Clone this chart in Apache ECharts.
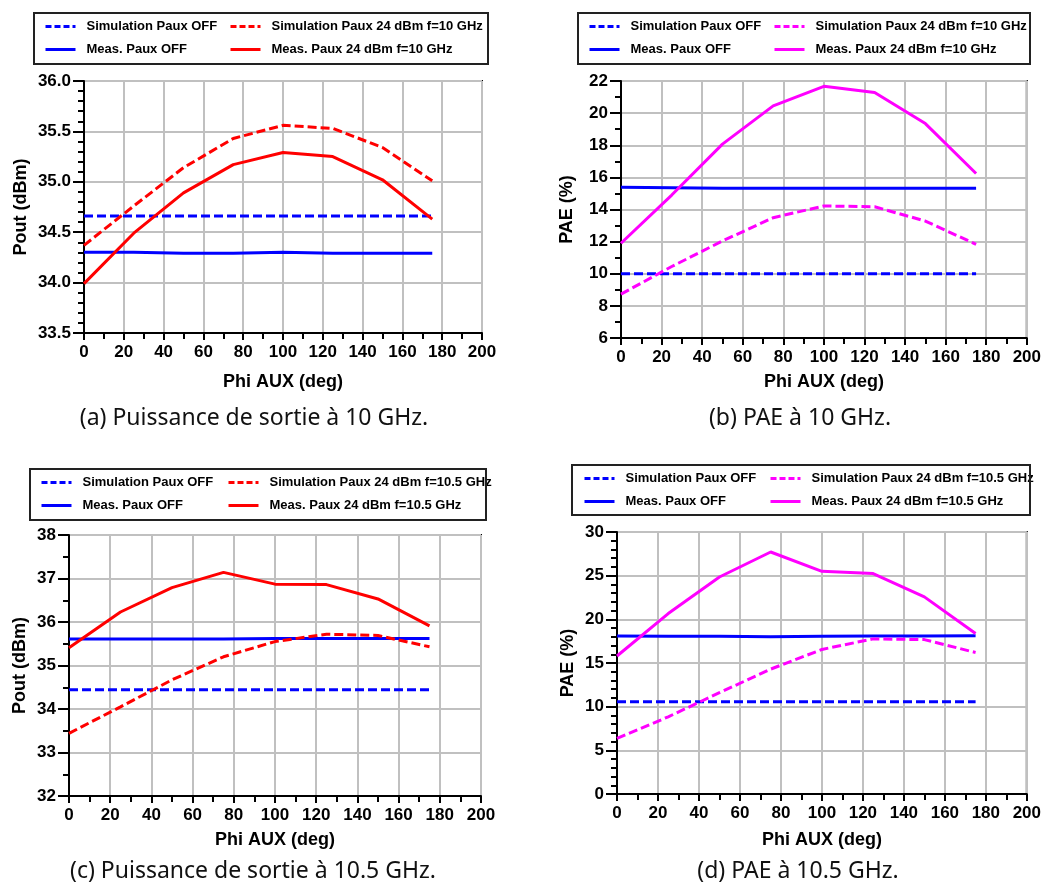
<!DOCTYPE html>
<html>
<head>
<meta charset="utf-8">
<script src="https://cdn.jsdelivr.net/npm/echarts@6/dist/echarts.min.js"></script>
<style>
html,body{margin:0;padding:0;background:#fff;}
#chart{width:1044px;height:885px;}
</style>
</head>
<body>
<div id="chart"></div>
<script>
// ---- data ----
const phi = [0, 25, 50, 75, 100, 125, 150, 175];

const a_simOff  = [34.66, 34.66, 34.66, 34.66, 34.66, 34.66, 34.66, 34.66];
const a_measOff = [34.30, 34.30, 34.29, 34.29, 34.30, 34.29, 34.29, 34.29];
const a_sim24   = [34.37, 34.76, 35.14, 35.43, 35.56, 35.53, 35.34, 35.01];
const a_meas24  = [33.99, 34.49, 34.89, 35.17, 35.29, 35.25, 35.02, 34.63];

const b_simOff  = [10.0, 10.0, 10.0, 10.0, 10.0, 10.0, 10.0, 10.0];
const b_measOff = [15.38, 15.35, 15.32, 15.32, 15.33, 15.33, 15.33, 15.33];
const b_sim24   = [8.73, 10.45, 12.04, 13.49, 14.22, 14.17, 13.28, 11.83];
const b_meas24  = [11.9, 14.9, 18.07, 20.45, 21.67, 21.28, 19.35, 16.24];

const c_simOff  = [34.44, 34.44, 34.44, 34.44, 34.44, 34.44, 34.44, 34.44];
const c_measOff = [35.61, 35.61, 35.61, 35.61, 35.62, 35.62, 35.62, 35.62];
const c_sim24   = [33.44, 34.05, 34.67, 35.20, 35.55, 35.72, 35.69, 35.43];
const c_meas24  = [35.41, 36.23, 36.79, 37.14, 36.87, 36.86, 36.53, 35.91];

const d_simOff  = [10.56, 10.56, 10.56, 10.56, 10.56, 10.56, 10.56, 10.56];
const d_measOff = [18.10, 18.06, 18.05, 18.02, 18.05, 18.08, 18.10, 18.12];
const d_sim24   = [6.36, 8.84, 11.6, 14.3, 16.55, 17.76, 17.68, 16.2];
const d_meas24  = [15.8, 20.66, 24.85, 27.71, 25.5, 25.24, 22.57, 18.38];

const legend10  = ['Simulation Paux OFF', 'Meas. Paux OFF', 'Simulation Paux 24 dBm f=10 GHz', 'Meas. Paux 24 dBm f=10 GHz'];
const legend105 = ['Simulation Paux OFF', 'Meas. Paux OFF', 'Simulation Paux 24 dBm f=10.5 GHz', 'Meas. Paux 24 dBm f=10.5 GHz'];
const captions = ['(a) Puissance de sortie à 10 GHz.', '(b) PAE à 10 GHz.', '(c) Puissance de sortie à 10.5 GHz.', '(d) PAE à 10.5 GHz.'];
const yNames = ['Pout (dBm)', 'PAE (%)', 'Pout (dBm)', 'PAE (%)'];
const xName = 'Phi AUX (deg)';
const yRanges = [[33.5, 36, 0.5, 5], [6, 22, 2, 2], [32, 38, 1, 2], [0, 30, 5, 5]];

// ---- layout ----
const panels = [
  {id:'a', grid:{left:84, top:81, width:398, height:252}, yGap:54, xGap:40,
   data:[a_simOff,a_measOff,a_sim24,a_meas24], legend:legend10, color:'#ff0000',
   box:[34,13,454,51], rows:[27,50], cols:[44,229], cap:[254,418]},
  {id:'b', grid:{left:621, top:81, width:408, height:257}, yGap:45, xGap:35,
   data:[b_simOff,b_measOff,b_sim24,b_meas24], legend:legend10, color:'#ff00ff',
   box:[578,13,452,51], rows:[27,50], cols:[588,773], cap:[800,418]},
  {id:'c', grid:{left:69, top:535, width:412, height:261}, yGap:40, xGap:35,
   data:[c_simOff,c_measOff,c_sim24,c_meas24], legend:legend105, color:'#ff0000',
   box:[30,469,456,51], rows:[483,506], cols:[40,227], cap:[253,871]},
  {id:'d', grid:{left:617, top:532, width:413, height:262}, yGap:40, xGap:37,
   data:[d_simOff,d_measOff,d_sim24,d_meas24], legend:legend105, color:'#ff00ff',
   box:[572,465,458,50], rows:[479,502], cols:[583,769], cap:[798,871]}
];

const FONT = 'Liberation Sans, Arial, sans-serif';
const grids = [], xAxes = [], yAxes = [], series = [], legends = [], graphics = [];
const dash = [9, 4];

panels.forEach((p, i) => {
  grids.push(Object.assign({show:true, borderColor:'#000', borderWidth:2}, p.grid));
  xAxes.push({
    type:'value', gridIndex:i, min:0, max:200, interval:20,
    name:xName, nameLocation:'middle', nameGap:p.xGap,
    nameTextStyle:{fontFamily:FONT, fontWeight:'bold', fontSize:18, color:'#000'},
    axisLine:{show:true, lineStyle:{color:'#000', width:2}},
    axisTick:{show:true, inside:false, length:7, lineStyle:{color:'#000', width:2}},
    minorTick:{show:true, splitNumber:2, length:6, lineStyle:{color:'#000', width:2}},
    axisLabel:{margin:11, fontFamily:FONT, fontWeight:'bold', fontSize:17, color:'#000'},
    splitLine:{show:true, lineStyle:{color:'#c0c0c0', width:2}}
  });
  const r = yRanges[i];
  yAxes.push({
    type:'value', gridIndex:i, min:r[0], max:r[1], interval:r[2],
    name:yNames[i], nameLocation:'middle', nameGap:p.yGap,
    nameTextStyle:{fontFamily:FONT, fontWeight:'bold', fontSize:18, color:'#000'},
    axisLine:{show:true, lineStyle:{color:'#000', width:2}},
    axisTick:{show:true, inside:false, length:11, lineStyle:{color:'#000', width:2}},
    minorTick:{show:true, splitNumber:r[3], length:6, lineStyle:{color:'#000', width:2}},
    axisLabel:{margin:13, fontFamily:FONT, fontWeight:'bold', fontSize:17, color:'#000',
      formatter: i === 0 ? (v => v.toFixed(1)) : (v => String(v))},
    splitLine:{show:true, lineStyle:{color:'#c0c0c0', width:2}}
  });
  const colors = ['#0000ff', '#0000ff', p.color, p.color];
  const types = [dash, 'solid', dash, 'solid'];
  const names = [p.id + '0', p.id + '1', p.id + '2', p.id + '3'];
  p.data.forEach((arr, k) => {
    series.push({
      type:'line', name:names[k], xAxisIndex:i, yAxisIndex:i,
      data: phi.map((x, j) => [x, arr[j]]),
      symbol:'none', showSymbol:false, animation:false,
      lineStyle:{color:colors[k], width:3, type:types[k]},
      itemStyle:{color:colors[k]}
    });
  });
  // legends: column 0 = simOff/measOff, column 1 = sim24/meas24
  const pos = [[p.cols[0], p.rows[0]], [p.cols[0], p.rows[1]], [p.cols[1], p.rows[0]], [p.cols[1], p.rows[1]]];
  names.forEach((nm, k) => {
    const label = p.legend[k];
    legends.push({
      left:pos[k][0], top:pos[k][1] - 7, padding:0, itemWidth:30, itemHeight:14,
      selectedMode:false, data:[nm],
      itemStyle:{opacity:0, borderWidth:0},
      lineStyle:{width:3, type: (k % 2 === 0) ? [6, 3] : 'solid'},
      formatter: () => label,
      textStyle:{fontFamily:FONT, fontWeight:'bold', fontSize:13, color:'#000', padding:[0,0,0,6]}
    });
  });
  graphics.push({type:'rect', shape:{x:p.box[0], y:p.box[1], width:p.box[2], height:p.box[3]},
    style:{fill:'none', stroke:'#222', lineWidth:2}, z:100});
  graphics.push({type:'text', x:p.cap[0], y:p.cap[1],
    style:{text:captions[i], fill:'#111', font:'23px "Noto Sans"', textAlign:'center', textVerticalAlign:'middle'}});
});

const chart = echarts.init(document.getElementById('chart'), null, {renderer:'canvas'});
chart.setOption({
  animation:false,
  backgroundColor:'#fff',
  grid:grids, xAxis:xAxes, yAxis:yAxes, series:series, legend:legends, graphic:graphics
});
</script>
</body>
</html>
